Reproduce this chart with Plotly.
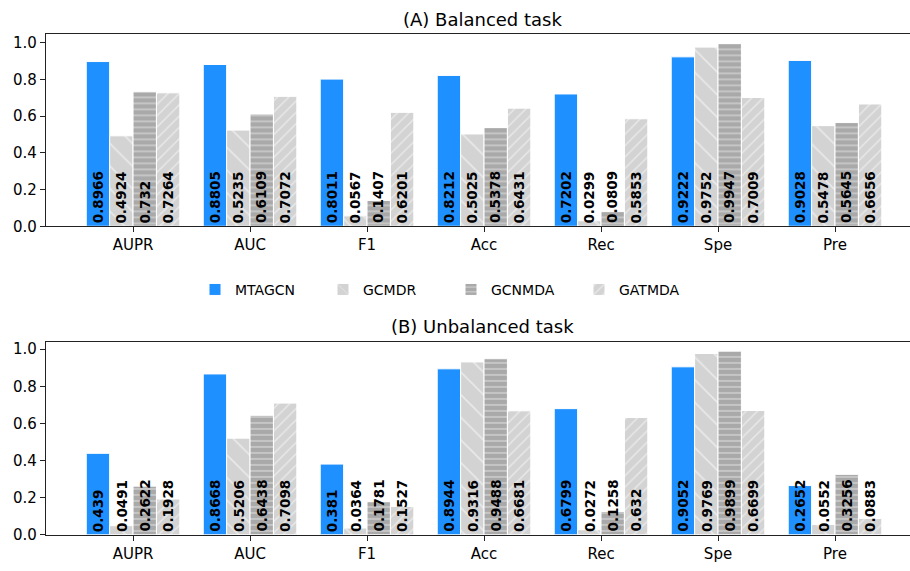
import plotly.graph_objects as go

# Metrics on the x axis
metrics = ["AUPR", "AUC", "F1", "Acc", "Rec", "Spe", "Pre"]
methods = ["MTAGCN", "GCMDR", "GCNMDA", "GATMDA"]

# (A) Balanced task scores
bal_mtagcn = [0.8966, 0.8805, 0.8011, 0.8212, 0.7202, 0.9222, 0.9028]
bal_gcmdr = [0.4924, 0.5235, 0.0567, 0.5025, 0.0299, 0.9752, 0.5478]
bal_gcnmda = [0.732, 0.6109, 0.1407, 0.5378, 0.0809, 0.9947, 0.5645]
bal_gatmda = [0.7264, 0.7072, 0.6201, 0.6431, 0.5853, 0.7009, 0.6656]

# (B) Unbalanced task scores
unb_mtagcn = [0.439, 0.8668, 0.381, 0.8944, 0.6799, 0.9052, 0.2652]
unb_gcmdr = [0.0491, 0.5206, 0.0364, 0.9316, 0.0272, 0.9769, 0.0552]
unb_gcnmda = [0.2622, 0.6438, 0.1781, 0.9488, 0.1258, 0.9899, 0.3256]
unb_gatmda = [0.1928, 0.7098, 0.1527, 0.6681, 0.632, 0.6699, 0.0883]

balanced = [bal_mtagcn, bal_gcmdr, bal_gcnmda, bal_gatmda]
unbalanced = [unb_mtagcn, unb_gcmdr, unb_gcnmda, unb_gatmda]

FONT = "DejaVu Sans"
W, H = 910, 571

styles = [
    dict(color="#1e90ff", pattern=None),
    dict(color="#d3d3d3", pattern=dict(shape="\\", size=16, solidity=0.1,
                                        fgcolor="white", bgcolor="#d3d3d3", fillmode="overlay")),
    dict(color="#a9a9a9", pattern=dict(shape="-", size=6, solidity=0.22,
                                        fgcolor="white", bgcolor="#a9a9a9", fillmode="overlay")),
    dict(color="#d3d3d3", pattern=dict(shape="/", size=8, solidity=0.18,
                                        fgcolor="white", bgcolor="#d3d3d3", fillmode="overlay")),
]

fig = go.Figure()
offsets = [-0.3, -0.1, 0.1, 0.3]

for panel, (data, xa, ya) in enumerate([(balanced, "x", "y"), (unbalanced, "x2", "y2")]):
    for k, (name, vals, st) in enumerate(zip(methods, data, styles)):
        marker = dict(color=st["color"], line=dict(color="white", width=1))
        if st["pattern"] is not None:
            marker["pattern"] = st["pattern"]
        fig.add_trace(go.Bar(
            x=metrics, y=vals, name=name, marker=marker,
            xaxis=xa, yaxis=ya, showlegend=(panel == 0),
            legendgroup=name,
        ))
        # value labels written vertically at the foot of each bar
        for i, v in enumerate(vals):
            fig.add_annotation(
                x=i + offsets[k], y=0, xref=xa, yref=ya,
                text="<b>%s</b>" % str(v), textangle=-90, showarrow=False,
                xanchor="center", yanchor="bottom", yshift=2,
                font=dict(family=FONT, size=13.5, color="black"),
                borderpad=0,
            )

ax_common = dict(
    showline=True, linecolor="#222", linewidth=1.2, mirror=True,
    ticks="outside", ticklen=5, tickwidth=1.1, tickcolor="#222",
    tickfont=dict(family=FONT, size=15, color="black"),
    showgrid=False, zeroline=False,
)
x_range = [-0.744, 6.641]
x_dom = [46 / W, 1.0]

fig.update_layout(
    width=W, height=H,
    margin=dict(l=0, r=0, t=0, b=0),
    plot_bgcolor="white", paper_bgcolor="white",
    barmode="group", bargap=0.2, bargroupgap=0,
    xaxis=dict(domain=x_dom, range=x_range, anchor="y", type="category", **ax_common),
    yaxis=dict(domain=[1 - 229.3 / H, 1 - 34 / H], range=[0, 1.0444], anchor="x",
               tickvals=[0, 0.2, 0.4, 0.6, 0.8, 1.0], tickformat=".1f",
               **{**ax_common, "mirror": False}),
    xaxis2=dict(domain=x_dom, range=x_range, anchor="y2", type="category", **ax_common),
    yaxis2=dict(domain=[1 - 543.3 / H, 1 - 347 / H], range=[0, 1.0394], anchor="x2",
                tickvals=[0, 0.2, 0.4, 0.6, 0.8, 1.0], tickformat=".1f",
                **{**ax_common, "mirror": False}),
    legend=dict(orientation="h", x=195 / W, xanchor="left", y=1 - 294 / H, yanchor="middle",
                font=dict(family=FONT, size=14, color="black"),
                entrywidth=83, entrywidthmode="pixels", bgcolor="rgba(0,0,0,0)"),
    font=dict(family=FONT, color="black"),
)

fig.add_annotation(text="(A) Balanced task", x=482 / W, y=1 - 19 / H, xref="paper", yref="paper",
                   showarrow=False, xanchor="center", yanchor="middle",
                   font=dict(family=FONT, size=18, color="black"))
fig.add_annotation(text="(B) Unbalanced task", x=482 / W, y=1 - 331 / H, xref="paper", yref="paper",
                   showarrow=False, xanchor="center", yanchor="middle",
                   font=dict(family=FONT, size=18, color="black"))

fig.write_html("out.html")
